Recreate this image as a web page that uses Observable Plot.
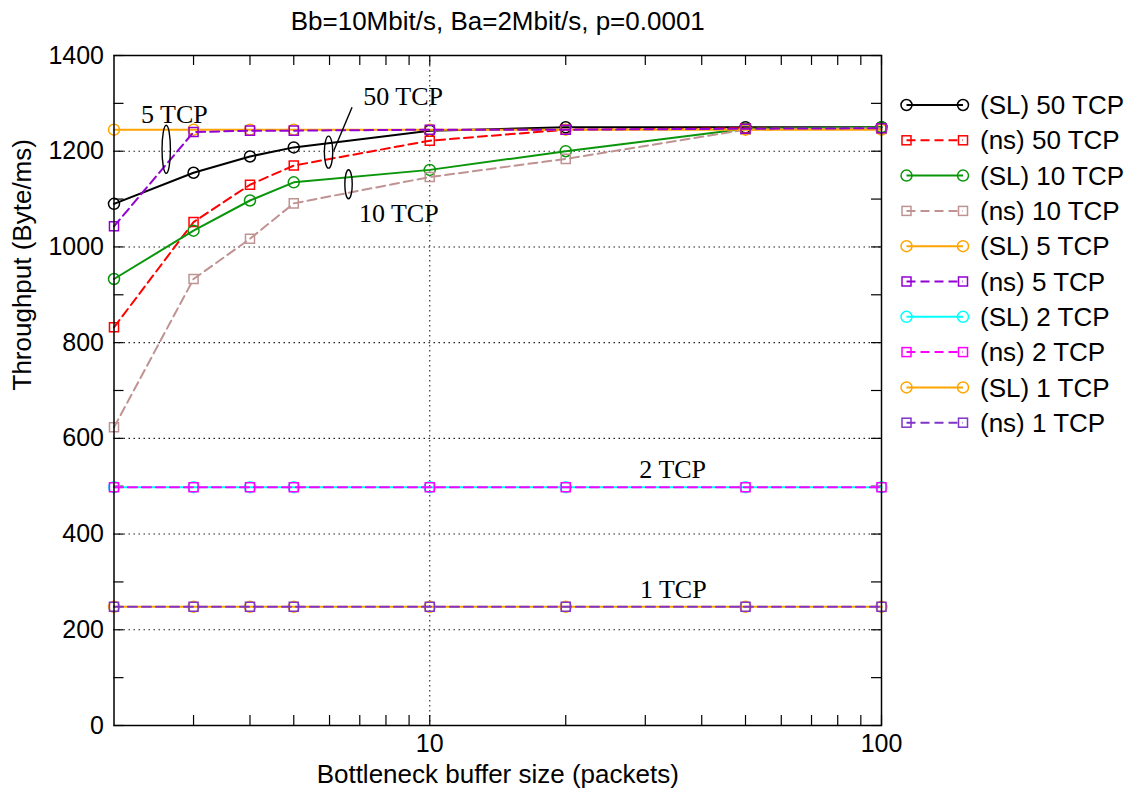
<!DOCTYPE html>
<html>
<head>
<meta charset="utf-8">
<script src="https://cdn.jsdelivr.net/npm/d3@7"></script>
<script src="https://cdn.jsdelivr.net/npm/@observablehq/plot@0.6"></script>
<style>
  html, body { margin: 0; padding: 0; background: #fff; }
  #chart { position: relative; width: 1134px; height: 795px; }
</style>
</head>
<body>
<div id="chart"></div>
<script>
// Bottleneck buffer sizes (packets)
const buffers = [2, 3, 4, 5, 10, 20, 50, 100];

// Throughput (Byte/ms) per configuration
const sl50 = [1090, 1155, 1189, 1208, 1243, 1250, 1250, 1250];
const ns50 = [832, 1052, 1130, 1170, 1222, 1245, 1248, 1248];
const sl10 = [933, 1034, 1097, 1135, 1161, 1200, 1247, 1250];
const ns10 = [623, 933, 1017, 1091, 1146, 1184, 1245, 1248];
const sl5  = [1245, 1245, 1245, 1245, 1245, 1245, 1245, 1245];
const ns5  = [1043, 1240, 1243, 1243, 1245, 1245, 1247, 1248];
const sl2  = [498, 498, 498, 498, 498, 498, 498, 498];
const ns2  = [498, 498, 498, 498, 498, 498, 498, 498];
const sl1  = [248, 248, 248, 248, 248, 248, 248, 248];
const ns1  = [248, 248, 248, 248, 248, 248, 248, 248];

const seriesLabels = ["(SL) 50 TCP", "(ns) 50 TCP", "(SL) 10 TCP", "(ns) 10 TCP", "(SL) 5 TCP",
                      "(ns) 5 TCP", "(SL) 2 TCP", "(ns) 2 TCP", "(SL) 1 TCP", "(ns) 1 TCP"];
const seriesValues = [sl50, ns50, sl10, ns10, sl5, ns5, sl2, ns2, sl1, ns1];
const seriesColors = ["#000000", "#ff0000", "#0a960a", "#c09393", "#ffa500",
                      "#9400d3", "#00ffff", "#ff00ff", "#ffa500", "#7f35c8"];

// Axis ticks
const yTickLabels = [0, 200, 400, 600, 800, 1000, 1200, 1400];
const yMinorTicks = [100, 300, 500, 700, 900, 1100, 1300];
const yGrid = [200, 400, 600, 800, 1000, 1200];
const xTickLabels = [10, 100];
const xMinorTicks = [3, 4, 5, 6, 7, 8, 9, 20, 30, 40, 50, 60, 70, 80, 90];
const xGrid = [10];

// Texts
const titleText = "Bb=10Mbit/s, Ba=2Mbit/s, p=0.0001";
const xLabel = "Bottleneck buffer size (packets)";
const yLabel = "Throughput (Byte/ms)";

// Group annotations (data coordinates)
const annoLabels = ["5 TCP", "50 TCP", "10 TCP", "2 TCP", "1 TCP"];
const annoX = [2.72, 8.73, 8.54, 34.5, 34.6];
const annoY = [1277, 1313, 1069, 535, 284];

// Ellipses marking groups of curves
const ellX = [2.61, 5.97, 6.61];
const ellY = [1204, 1198, 1131];
const ellRx = [4.2, 4.2, 3.7];
const ellRy = [24, 16, 14.5];

// Leader line for the "50 TCP" label
const leader = [{x1: 6.13, y1: 1201, x2: 6.73, y2: 1292}];

const sans = "'Liberation Sans', Arial, Helvetica, sans-serif";
const serif = "'Liberation Serif', 'Times New Roman', serif";

function ellipseSymbol(rx, ry) {
  const k = 0.5522847498;
  return {
    draw(ctx) {
      ctx.moveTo(rx, 0);
      ctx.bezierCurveTo(rx, ry * k, rx * k, ry, 0, ry);
      ctx.bezierCurveTo(-rx * k, ry, -rx, ry * k, -rx, 0);
      ctx.bezierCurveTo(-rx, -ry * k, -rx * k, -ry, 0, -ry);
      ctx.bezierCurveTo(rx * k, -ry, rx, -ry * k, rx, 0);
      ctx.closePath();
    }
  };
}

const W = 1134, H = 795;
const mL = 113.5, mR = 253, mT = 55, mB = 70;
const frameW = W - mL - mR, frameH = H - mT - mB;
const tickLen = 10;

const marks = [];

// dotted grid
marks.push(Plot.ruleY(yGrid, {y: d => d, stroke: "#222", strokeWidth: 1.1, strokeDasharray: "1.5,3.5"}));
marks.push(Plot.ruleX(xGrid, {x: d => d, stroke: "#222", strokeWidth: 1.1, strokeDasharray: "1.5,3.5"}));

// inward ticks on all four sides
const xAllTicks = xMinorTicks.concat(xTickLabels);
marks.push(Plot.ruleX(xAllTicks, {x: d => d, insetTop: frameH - tickLen, stroke: "#000", strokeWidth: 1.2}));
marks.push(Plot.ruleX(xAllTicks, {x: d => d, insetBottom: frameH - tickLen, stroke: "#000", strokeWidth: 1.2}));
const yAllTicks = yTickLabels.concat(yMinorTicks);
marks.push(Plot.ruleY(yAllTicks, {y: d => d, insetRight: frameW - tickLen, stroke: "#000", strokeWidth: 1.2}));
marks.push(Plot.ruleY(yAllTicks, {y: d => d, insetLeft: frameW - tickLen, stroke: "#000", strokeWidth: 1.2}));

// series: line then markers
seriesValues.forEach((vals, si) => {
  const dashed = si % 2 === 1;
  const color = seriesColors[si];
  marks.push(Plot.line(buffers, {
    x: d => d, y: (d, i) => vals[i],
    stroke: color, strokeWidth: 2,
    strokeDasharray: dashed ? "9,5" : null
  }));
  marks.push(Plot.dot(buffers, {
    x: d => d, y: (d, i) => vals[i],
    symbol: dashed ? "square" : "circle",
    r: dashed ? 5.1 : 5.5,
    stroke: color, fill: "none", strokeWidth: 1.5
  }));
});

// ellipses and leader line
ellX.forEach((ex, i) => {
  marks.push(Plot.dot([ex], {
    x: d => d, y: () => ellY[i],
    symbol: ellipseSymbol(ellRx[i], ellRy[i]),
    stroke: "#000", fill: "none", strokeWidth: 1.4
  }));
});
marks.push(Plot.link(leader, {x1: "x1", y1: "y1", x2: "x2", y2: "y2", stroke: "#000", strokeWidth: 1.4}));

// group labels
marks.push(Plot.text(annoLabels, {
  x: (d, i) => annoX[i], y: (d, i) => annoY[i], text: d => d,
  fontFamily: serif, fontSize: 26, fill: "#000"
}));

// frame
marks.push(Plot.frame({stroke: "#000", strokeWidth: 1.5}));

// axes
marks.push(Plot.axisY({ticks: yTickLabels, tickSize: 0, tickPadding: 10, label: null,
  fontSize: 25, fontFamily: sans, fill: "#000", tickFormat: d => String(d)}));
marks.push(Plot.axisX({ticks: xTickLabels, tickSize: 0, tickPadding: 9, label: null,
  fontSize: 25, fontFamily: sans, fill: "#000", tickFormat: d => String(d)}));

// title and axis labels
marks.push(Plot.text([titleText], {frameAnchor: "top", lineAnchor: "middle", dy: -34, text: d => d,
  fontSize: 26, fontFamily: sans, fill: "#000"}));
marks.push(Plot.text([xLabel], {frameAnchor: "bottom", lineAnchor: "middle", dy: 49, text: d => d,
  fontSize: 26, fontFamily: sans, fill: "#000"}));
marks.push(Plot.text([yLabel], {frameAnchor: "left", lineAnchor: "middle", dx: -91, rotate: -90, text: d => d,
  fontSize: 26, fontFamily: sans, fill: "#000"}));

const svg = Plot.plot({
  width: W, height: H,
  marginLeft: mL, marginRight: mR, marginTop: mT, marginBottom: mB,
  x: {type: "log", domain: [2, 100], axis: null},
  y: {domain: [0, 1400], axis: null},
  style: {fontFamily: sans, fontSize: "25px", color: "#000", background: "#fff"},
  marks
});

// key on the right of the frame
const key = d3.select(svg).append("g").attr("class", "key");
const keyX0 = 906.5, keyX1 = 963, keyText = 980, keyY0 = 105, keyStep = 35.3;
seriesLabels.forEach((lab, i) => {
  const dashed = i % 2 === 1;
  const color = seriesColors[i];
  const y = keyY0 + i * keyStep;
  const g = key.append("g");
  g.append("line")
    .attr("x1", keyX0).attr("x2", keyX1).attr("y1", y).attr("y2", y)
    .attr("stroke", color).attr("stroke-width", 2)
    .attr("stroke-dasharray", dashed ? "9,5" : null);
  [keyX0, keyX1].forEach(cx => {
    if (dashed) {
      g.append("rect").attr("x", cx - 4.5).attr("y", y - 4.5).attr("width", 9).attr("height", 9)
        .attr("fill", "none").attr("stroke", color).attr("stroke-width", 1.5);
    } else {
      g.append("circle").attr("cx", cx).attr("cy", y).attr("r", 5.5)
        .attr("fill", "none").attr("stroke", color).attr("stroke-width", 1.5);
    }
  });
  g.append("text").attr("x", keyText).attr("y", y).attr("dy", "0.35em")
    .attr("text-anchor", "start")
    .attr("font-family", sans).attr("font-size", 26).attr("fill", "#000")
    .text(lab);
});

document.getElementById("chart").appendChild(svg);
</script>
</body>
</html>
